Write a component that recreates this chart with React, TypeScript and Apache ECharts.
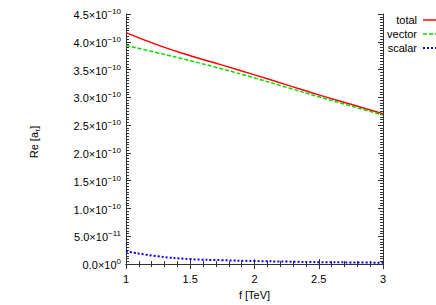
import React, { useEffect, useRef } from "react";
import * as echarts from "echarts";

// f in TeV
const fValues = [1, 1.25, 1.5, 1.75, 2, 2.25, 2.5, 2.75, 3];
// Re[a_tau] in units of 1e-10
const totalVals = [4.165, 3.94, 3.75, 3.58, 3.405, 3.225, 3.045, 2.875, 2.705];
const vectorVals = [3.935, 3.80, 3.66, 3.51, 3.35, 3.18, 3.01, 2.845, 2.68];
const scalarVals = [0.23, 0.14, 0.09, 0.07, 0.055, 0.045, 0.035, 0.03, 0.025];
const seriesNames = ["total", "vector", "scalar"];
const seriesColors = ["#ff0000", "#00dd00", "#0000ff"];
const UNIT = 1e-10;

function sciLabel(v: number): string {
  const real = v * UNIT;
  if (Math.abs(real) < 1e-30) return "{b|0.0×10}{s|0}";
  const e = Math.floor(Math.log10(Math.abs(real)) + 1e-9);
  const m = real / Math.pow(10, e);
  const es = e < 0 ? "−" + Math.abs(e) : String(e);
  return "{b|" + m.toFixed(1) + "×10}{s|" + es + "}";
}

export default function App() {
  const ref = useRef<HTMLDivElement>(null);
  useEffect(() => {
    if (!ref.current) return;
    const chart = echarts.init(ref.current, null, { renderer: "svg" });
    const font = "Liberation Sans, Arial, Helvetica, sans-serif";
    const axisCol = "#333";
    const mk = (vals: number[]) => fValues.map((f, i) => [f, vals[i]]);
    const xBase = {
      type: "value" as const,
      min: 1,
      max: 3,
      interval: 0.5,
      splitLine: { show: false },
      axisLine: { show: true, lineStyle: { color: axisCol, width: 1 } },
      axisTick: { show: true, inside: true, length: 5, lineStyle: { color: axisCol } },
      minorTick: { show: true, splitNumber: 5, length: 3, lineStyle: { color: axisCol } },
    };
    const yBase = {
      type: "value" as const,
      min: 0,
      max: 4.5,
      interval: 0.5,
      splitLine: { show: false },
      axisLine: { show: true, lineStyle: { color: axisCol, width: 1 } },
      axisTick: { show: true, inside: true, length: 5, lineStyle: { color: axisCol } },
      minorTick: { show: true, splitNumber: 10, length: 3, lineStyle: { color: axisCol } },
    };
    const rich = {
      b: { fontSize: 11, fontFamily: font, color: "#000", verticalAlign: "bottom", lineHeight: 13 },
      s: { fontSize: 8, fontFamily: font, color: "#000", verticalAlign: "top", lineHeight: 9 },
    };
    const dashes: any[] = ["solid", [4, 2], [2, 2]];
    const legendGraphics: any[] = [];
    seriesNames.forEach((n, i) => {
      const y = 20 + i * 14;
      legendGraphics.push({
        type: "text",
        x: 417,
        y,
        style: { text: n, align: "right", verticalAlign: "middle", fontSize: 11, fontFamily: font, fill: "#000" },
      });
      legendGraphics.push({
        type: "line",
        shape: { x1: 423, y1: y, x2: 442, y2: y },
        style: { stroke: seriesColors[i], lineWidth: i === 2 ? 2 : 1.5, lineDash: dashes[i] === "solid" ? null : dashes[i] },
      });
    });
    chart.setOption({
      animation: false,
      textStyle: { fontFamily: font },
      grid: { left: 126, right: 53, top: 14, bottom: 36 },
      xAxis: [
        {
          ...xBase,
          position: "bottom",
          axisLabel: { fontSize: 11, color: "#000", margin: 9, fontFamily: font },
          name: "f [TeV]",
          nameLocation: "middle",
          nameGap: 22,
          nameTextStyle: { fontSize: 11, color: "#000", fontFamily: font },
        },
        { ...xBase, position: "top", axisLabel: { show: false } },
      ],
      yAxis: [
        {
          ...yBase,
          position: "left",
          axisLabel: { margin: 5, formatter: (v: number) => sciLabel(v), rich },
        },
        { ...yBase, position: "right", axisLabel: { show: false } },
      ],
      graphic: [
        {
          type: "text",
          x: 35,
          y: 142,
          rotation: Math.PI / 2,
          style: {
            text: "{a|Re [a}{t|τ}{a|]}",
            align: "center",
            verticalAlign: "middle",
            rich: {
              a: { fontSize: 11, fontFamily: font, fill: "#000", verticalAlign: "top", lineHeight: 13 },
              t: { fontSize: 8, fontFamily: font, fill: "#000", verticalAlign: "bottom", lineHeight: 9 },
            },
          },
        },
        ...legendGraphics,
      ],
      series: seriesNames.map((n, i) => ({
        name: n,
        type: "line",
        data: mk([totalVals, vectorVals, scalarVals][i]),
        smooth: true,
        symbol: "none",
        lineStyle: { color: seriesColors[i], width: i === 2 ? 2 : 1.5, type: dashes[i] },
        itemStyle: { color: seriesColors[i] },
      })),
    });
    return () => chart.dispose();
  }, []);
  return <div ref={ref} style={{ width: 436, height: 305, position: "absolute", left: 0, top: 0 }} />;
}
